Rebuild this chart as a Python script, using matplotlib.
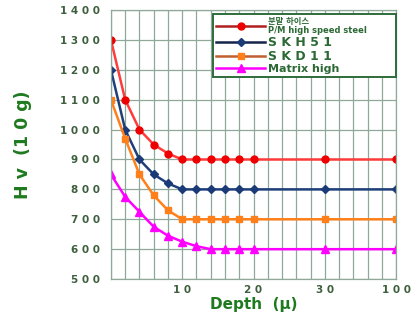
import matplotlib
matplotlib.use("Agg")
import matplotlib.pyplot as plt
from matplotlib.font_manager import FontProperties

# depth steps as shown on the (non-linear) x axis
depth = [0, 2, 4, 6, 8, 10, 12, 14, 16, 18, 20, 30, 100]
x_pos = [0, 1, 2, 3, 4, 5, 6, 7, 8, 9, 10, 15, 20]

pm_hss = [1300, 1100, 1000, 950, 920, 900, 900, 900, 900, 900, 900, 900, 900]
skh51 = [1200, 1000, 900, 850, 820, 800, 800, 800, 800, 800, 800, 800, 800]
skd11 = [1100, 970, 850, 780, 730, 700, 700, 700, 700, 700, 700, 700, 700]
matrix = [850, 775, 725, 675, 645, 625, 610, 600, 600, 600, 600, 600, 600]

x_tick_pos = [5, 10, 15, 20]
x_tick_labels = ["10", "20", "30", "100"]
y_ticks = [500, 600, 700, 800, 900, 1000, 1100, 1200, 1300, 1400]

tick_col = "#3d5f3d"
label_col = "#1f7a1f"
grid_col = "#8fa89a"


def spaced(s):
    return " ".join(s)


fig = plt.figure(figsize=(4.17, 3.23), dpi=100)
ax = fig.add_axes([0.266, 0.136, 0.684, 0.833])

ax.plot(x_pos, pm_hss, color="#ff3b3b", lw=1.8, marker="o", ms=5,
        mfc="#ee0000", mec="#ee0000", label="분말 하이스\nP/M high speed steel")
ax.plot(x_pos, skh51, color="#1f3f7a", lw=1.8, marker="D", ms=4.2,
        mfc="#1a3a78", mec="#1a3a78", label=spaced("SKH51"))
ax.plot(x_pos, skd11, color="#ff7f1a", lw=1.8, marker="s", ms=4.5,
        mfc="#ff7f1a", mec="#ff7f1a", label=spaced("SKD11"))
ax.plot(x_pos, matrix, color="#ff00ff", lw=1.8, marker="^", ms=5.5,
        mfc="#ff00ff", mec="#ff00ff", label="Matrix high")

ax.set_xlim(0, 20)
ax.set_ylim(500, 1400)

ax.set_xticks(range(21))
ax.set_xticklabels([spaced(x_tick_labels[x_tick_pos.index(i)]) if i in x_tick_pos else ""
                    for i in range(21)])
ax.set_yticks(y_ticks)
ax.set_yticklabels([spaced(str(v)) for v in y_ticks])
ax.tick_params(length=0, colors=tick_col, labelsize=7.5)
ax.tick_params(axis="y", pad=8)
ax.tick_params(axis="x", pad=4)
for t in ax.get_xticklabels() + ax.get_yticklabels():
    t.set_fontweight("bold")

ax.grid(True, color=grid_col, lw=0.9)
ax.set_axisbelow(True)
for sp in ax.spines.values():
    sp.set_color(grid_col)
    sp.set_linewidth(0.9)

ax.set_ylabel("H v  (1 0 g)", color=label_col, fontsize=12.5, fontweight="bold", labelpad=20)
ax.set_xlabel("Depth  (μ)", color=label_col, fontsize=11, fontweight="bold", labelpad=2)

leg = ax.legend(loc="upper left", bbox_to_anchor=(0.34, 0.755, 0.678, 0.249), mode="expand",
                handlelength=4.4, handletextpad=0.3, labelspacing=0.1, borderpad=0.25,
                fancybox=False, edgecolor="#2e6b3a", framealpha=1,
                prop=FontProperties(family=["DejaVu Sans", "Noto Sans CJK KR"],
                                    weight="bold", size=8))
leg.get_frame().set_linewidth(1.4)
leg_line_cols = ["#b02020", "#14234a", "#c06030", "#ff00ff"]
for h, c in zip(leg.get_lines(), leg_line_cols):
    h.set_color(c)
for i, t in enumerate(leg.get_texts()):
    t.set_color("#2c6a35")
    if i == 0:
        t.set_fontsize(6)
        t.set_linespacing(0.95)
    elif i in (1, 2):
        t.set_fontsize(9)

fig.savefig("out.png", dpi=100)
